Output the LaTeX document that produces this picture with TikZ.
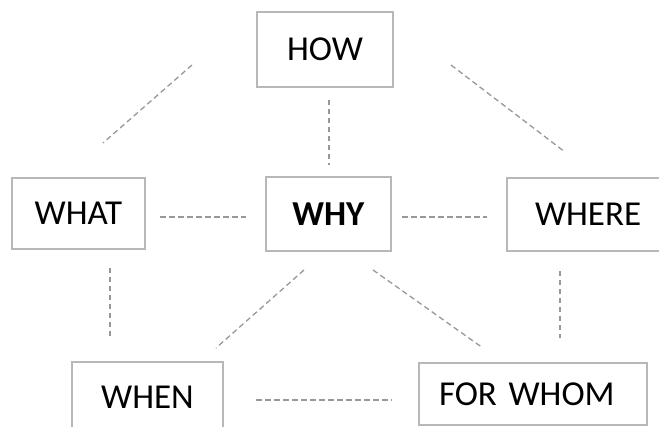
\documentclass[tikz,border=0pt]{standalone}
\usepackage{fontspec}
\setmainfont{Carlito}
\definecolor{boxgray}{HTML}{B8B8B8}
\definecolor{linegray}{HTML}{989898}
\tikzset{
  wbox/.style={draw=boxgray, line width=1.3pt, fill=white, inner sep=0pt, font=\fontsize{35}{40}\selectfont},
  conn/.style={draw=linegray, line width=1.3pt, dash pattern=on 5.5pt off 3.5pt}
}
\begin{document}
\begin{tikzpicture}[x=1pt,y=1pt]
\useasboundingbox (0,0) rectangle (659,426);
\node[wbox, minimum width=136pt, minimum height=75pt] (how) at (325,376.5) {HOW};
\node[wbox, minimum width=133pt, minimum height=71pt] (what) at (78.5,212.5) {WHAT};
\node[wbox, minimum width=125pt, minimum height=74pt] (why) at (328.5,212) {\textbf{WHY}};
\node[wbox, minimum width=193pt, minimum height=73pt, inner xsep=28pt, text width=137pt, align=left] (where) at (603.5,211.5) {WHERE};
\node[wbox, minimum width=151pt, minimum height=70pt] (when) at (147.5,29) {WHEN};
\node[wbox, minimum width=228pt, minimum height=62pt, inner xsep=20pt, text width=188pt, align=left] (forwhom) at (533,32) {FOR WHOM};
% connector end points
\coordinate (a1) at (192,361); \coordinate (a2) at (103,283);
\coordinate (b1) at (329,326); \coordinate (b2) at (329,261);
\coordinate (c1) at (451,361); \coordinate (c2) at (565,274);
\coordinate (d1) at (160,209); \coordinate (d2) at (246,209);
\coordinate (e1) at (402,209); \coordinate (e2) at (487,209);
\coordinate (f1) at (110,158); \coordinate (f2) at (110,89);
\coordinate (g1) at (304,156); \coordinate (g2) at (216,78);
\coordinate (h1) at (373,156); \coordinate (h2) at (483,78);
\coordinate (i1) at (560,155); \coordinate (i2) at (560,88);
\coordinate (j1) at (256,26); \coordinate (j2) at (392,26);
\draw[conn] (a1) -- (a2);
\draw[conn] (b1) -- (b2);
\draw[conn] (c1) -- (c2);
\draw[conn] (d1) -- (d2);
\draw[conn] (e1) -- (e2);
\draw[conn] (f1) -- (f2);
\draw[conn] (g1) -- (g2);
\draw[conn] (h1) -- (h2);
\draw[conn] (i1) -- (i2);
\draw[conn] (j1) -- (j2);
\end{tikzpicture}
\end{document}
